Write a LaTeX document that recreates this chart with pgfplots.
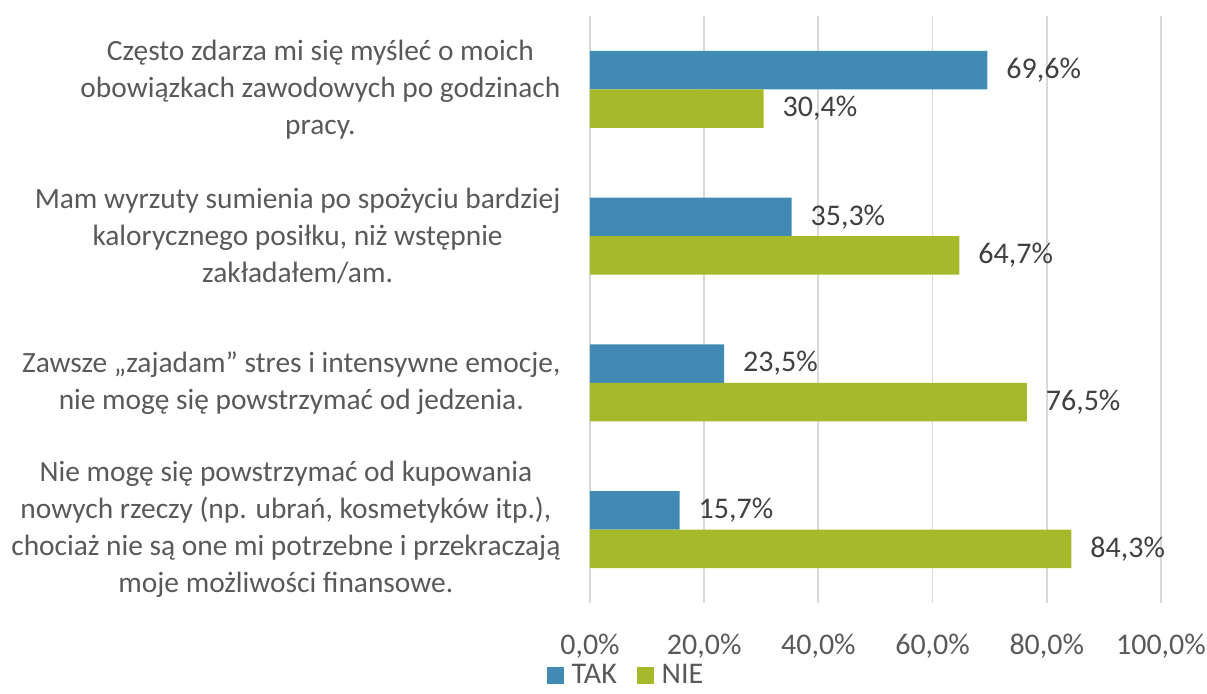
\documentclass[border=0pt]{standalone}
\usepackage{fontspec}
\setmainfont{Carlito}
\usepackage{pgfplots}
\pgfplotsset{compat=1.18}
\definecolor{tak}{HTML}{408AB4}
\definecolor{nie}{HTML}{A6B92A}
\definecolor{lbl}{HTML}{595959}
\definecolor{val}{HTML}{404040}
\definecolor{grd}{HTML}{D9D9D9}
\begin{document}
\begin{tikzpicture}
\useasboundingbox (-295pt,-45pt) rectangle (308.5pt,301.5pt);
\begin{axis}[
  at={(0,0)}, anchor=south west,
  scale only axis, width=285.5pt, height=293.5pt,
  xbar, bar width=19.25pt,
  xmin=0, xmax=100, ymin=-0.5, ymax=3.5,
  /pgf/number format/assume math mode=true,
  axis line style={draw=none},
  major tick style={draw=none},
  xmajorgrids, grid style={grd, line width=0.9pt},
  xtick={0,20,40,60,80,100},
  xticklabels={{0,0\%},{20,0\%},{40,0\%},{60,0\%},{80,0\%},{100,0\%}},
  xticklabel style={font=\fontsize{15}{18}\selectfont, text=lbl, anchor=north, yshift=-12pt},
  ytick={0,1,2,3},
  yticklabels={
    {Nie mogę się powstrzymać od kupowania\\nowych rzeczy (np. ubrań, kosmetyków itp.),\\chociaż nie są one mi potrzebne i przekraczają\\moje możliwości finansowe.},
    {Zawsze „zajadam” stres i intensywne emocje,\\nie mogę się powstrzymać od jedzenia.},
    {Mam wyrzuty sumienia po spożyciu bardziej\\kalorycznego posiłku, niż wstępnie\\zakładałem/am.},
    {Często zdarza mi się myśleć o moich\\obowiązkach zawodowych po godzinach\\pracy.}},
  yticklabel style={font=\fontsize{14.7}{18.5}\selectfont, text=lbl, align=center, anchor=east, xshift=-7pt},
  nodes near coords={\pgfmathprintnumber[fixed,fixed zerofill,precision=1,use comma]{\pgfplotspointmeta}\%},
  point meta=x,
  nodes near coords style={font=\fontsize{15}{18}\selectfont, text=val, anchor=west, xshift=6pt},
  clip=false,
  legend style={at={(0.065,-0.124)}, anchor=center, draw=none, legend columns=2,
    font=\fontsize{15}{18}\selectfont, text=lbl, inner sep=1pt,
    /tikz/every even column/.append style={column sep=8pt}},
  legend image code/.code={\fill[#1] (0pt,-4.2pt) rectangle (8.4pt,4.2pt); \path (10.4pt,0pt);},
]
\addplot[fill=tak, draw=none, bar shift=9.625pt] coordinates {(69.6,3) (35.3,2) (23.5,1) (15.7,0)};
\addplot[fill=nie, draw=none, bar shift=-9.625pt] coordinates {(30.4,3) (64.7,2) (76.5,1) (84.3,0)};
\legend{TAK,NIE}
\end{axis}
\end{tikzpicture}
\end{document}
